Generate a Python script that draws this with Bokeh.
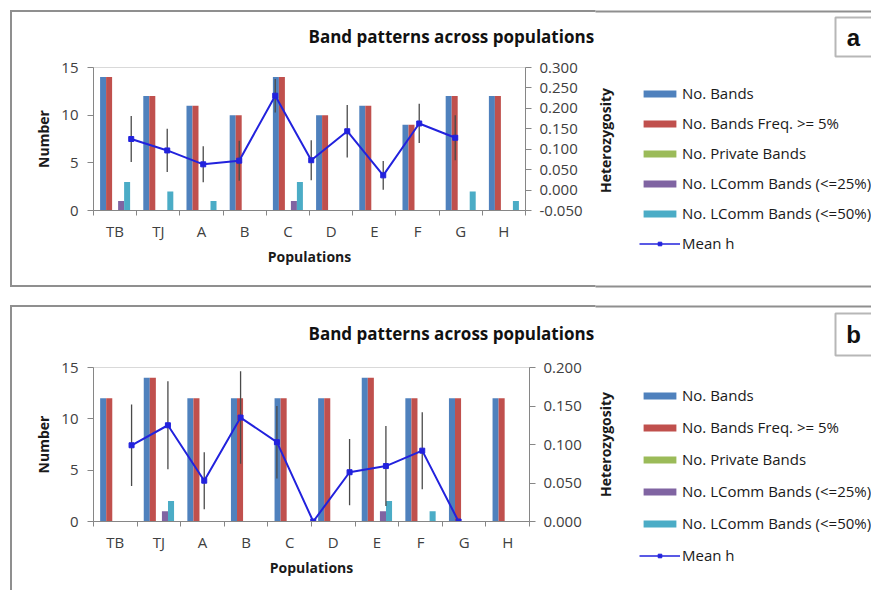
import math
from bokeh.plotting import figure
from bokeh.models import (Range1d, LinearAxis, FixedTicker, PrintfTickFormatter,
                          Legend, LegendItem, BoxAnnotation, Label)
from bokeh.layouts import column, row
from bokeh.embed import file_html
from bokeh.resources import INLINE

# ---------------- data ----------------
populations = ["TB", "TJ", "A", "B", "C", "D", "E", "F", "G", "H"]
series_names = ["No. Bands", "No. Bands Freq. >= 5%", "No. Private Bands",
                "No. LComm Bands (<=25%)", "No. LComm Bands (<=50%)"]
line_name = "Mean h"
chart_title = "Band patterns across populations"

# panel a
a_bands = [14, 12, 11, 10, 14, 10, 11, 9, 12, 12]
a_freq5 = [14, 12, 11, 10, 14, 10, 11, 9, 12, 12]
a_private = [0, 0, 0, 0, 0, 0, 0, 0, 0, 0]
a_lcomm25 = [1, 0, 0, 0, 1, 0, 0, 0, 0, 0]
a_lcomm50 = [3, 2, 1, 0, 3, 0, 0, 0, 2, 1]
a_mean_h = [0.125, 0.097, 0.063, 0.072, 0.231, 0.073, 0.144, 0.036, 0.163, 0.128]
a_h_err = [0.056, 0.053, 0.044, 0.049, 0.041, 0.049, 0.064, 0.035, 0.048, 0.055]
a_h_ticks = [-0.05, 0.0, 0.05, 0.10, 0.15, 0.20, 0.25, 0.30]

# panel b
b_bands = [12, 14, 12, 12, 12, 12, 14, 12, 12, 12]
b_freq5 = [12, 14, 12, 12, 12, 12, 14, 12, 12, 12]
b_private = [0, 0, 0, 0, 0, 0, 0, 0, 0, 0]
b_lcomm25 = [0, 1, 0, 0, 0, 0, 1, 0, 0, 0]
b_lcomm50 = [0, 2, 0, 0, 0, 0, 2, 1, 0, 0]
b_mean_h = [0.099, 0.125, 0.053, 0.135, 0.103, 0.000, 0.064, 0.072, 0.092, 0.000]
b_h_err = [0.053, 0.057, 0.037, 0.060, 0.047, 0.0, 0.043, 0.052, 0.050, 0.0]
b_h_ticks = [0.0, 0.05, 0.10, 0.15, 0.20]

number_ticks = [0, 5, 10, 15]

BAR_COLORS = ["#4F81BD", "#C0504D", "#9BBB59", "#8064A2", "#4BACC6"]
LINE_COLOR = "#2222dd"
AXIS_COLOR = "#868686"
BORDER_COLOR = "#8f8f8f"
FONT = "Open Sans"
TOTAL_W = 871
CHART_W = 595
SIDE_W = TOTAL_W - CHART_W
NAN = float("nan")


def make_chart(series, mean_h, h_err, h_range, h_ticks, height, frame_w, mb_top, mb_bottom,
               title_standoff):
    n = len(populations)
    p = figure(width=CHART_W, height=height, x_range=Range1d(0, n), y_range=Range1d(0, 15),
               output_backend="svg", toolbar_location=None,
               min_border_left=93, min_border_right=CHART_W - 93 - frame_w,
               min_border_top=mb_top, min_border_bottom=mb_bottom)
    p.title.text = chart_title
    p.title.text_font = FONT
    p.title.text_font_style = "bold"
    p.title.text_font_size = "17px"
    p.title.text_color = "#111111"
    p.title.align = "left"
    p.title.offset = 215
    p.title.standoff = title_standoff
    p.extra_y_ranges = {"h": Range1d(*h_range)}
    p.xgrid.visible = False
    p.ygrid.visible = False
    p.outline_line_color = "#d9d9d9"
    p.background_fill_color = "white"
    p.border_fill_color = None

    bw = 0.139
    for k, (vals, col) in enumerate(zip(series, BAR_COLORS)):
        xs = [i + 0.5 + (k - 2) * bw for i in range(n)]
        p.vbar(x=xs, top=vals, width=bw, bottom=0, fill_color=col, line_color=None)

    # secondary (Excel) category positions of the line series
    xl = [(i + 1) * n / 12.0 + 0.04 for i in range(n)]
    lo = [m - e for m, e in zip(mean_h, h_err)]
    hi = [m + e for m, e in zip(mean_h, h_err)]
    p.segment(x0=xl, y0=lo, x1=xl, y1=hi, y_range_name="h", line_color="#4a4a4a", line_width=1.3)
    p.line(xl, mean_h, y_range_name="h", line_color=LINE_COLOR, line_width=2)
    p.scatter(xl, mean_h, y_range_name="h", marker="square", size=5,
              fill_color=LINE_COLOR, line_color=LINE_COLOR)

    xa = p.xaxis[0]
    xa.ticker = FixedTicker(ticks=[i + 0.5 for i in range(n)], minor_ticks=list(range(n + 1)))
    xa.major_label_overrides = {i + 0.5: populations[i] for i in range(n)}
    xa.major_tick_line_color = None
    xa.major_tick_out = 0
    xa.major_tick_in = 0
    xa.minor_tick_out = 5
    xa.minor_tick_in = 0
    xa.minor_tick_line_color = AXIS_COLOR
    xa.axis_line_color = AXIS_COLOR
    xa.major_label_standoff = 5
    xa.major_label_text_font = FONT
    xa.major_label_text_font_size = "15px"
    xa.major_label_text_color = "#404040"
    xa.axis_label = "Populations"
    xa.axis_label_text_font = FONT
    xa.axis_label_text_font_style = "bold"
    xa.axis_label_text_font_size = "14px"
    xa.axis_label_text_color = "#1a1a1a"
    xa.axis_label_standoff = 3

    ya = p.yaxis[0]
    ya.ticker = FixedTicker(ticks=number_ticks, minor_ticks=[])
    ya.major_tick_out = 6
    ya.major_tick_in = 0
    ya.major_tick_line_color = AXIS_COLOR
    ya.axis_line_color = AXIS_COLOR
    ya.major_label_standoff = 9
    ya.major_label_text_font = FONT
    ya.major_label_text_font_size = "15px"
    ya.major_label_text_color = "#404040"
    ya.axis_label = "Number"
    ya.axis_label_text_font = FONT
    ya.axis_label_text_font_style = "bold"
    ya.axis_label_text_font_size = "14px"
    ya.axis_label_text_color = "#1a1a1a"
    ya.axis_label_standoff = 5

    ra = LinearAxis(y_range_name="h", ticker=FixedTicker(ticks=h_ticks, minor_ticks=[]),
                    formatter=PrintfTickFormatter(format="%.3f"))
    ra.major_tick_out = 6
    ra.major_tick_in = 0
    ra.major_tick_line_color = AXIS_COLOR
    ra.axis_line_color = AXIS_COLOR
    ra.major_label_standoff = 8
    ra.major_label_text_font = FONT
    ra.major_label_text_font_size = "15px"
    ra.major_label_text_color = "#404040"
    p.add_layout(ra, "right")
    return p


def canvas_box(left, right, top, bottom, **kw):
    return BoxAnnotation(left=left, right=right, top=top, bottom=bottom,
                         left_units="canvas", right_units="canvas",
                         top_units="canvas", bottom_units="canvas", **kw)


def make_side(height, tag, tag_top, tag_bottom, tag_y, het_y, legend_loc, legend_spacing,
              border_lines):
    s = figure(width=SIDE_W, height=height, x_range=Range1d(0, 1), y_range=Range1d(0, 1),
               x_axis_type=None, y_axis_type=None, output_backend="svg",
               toolbar_location=None, min_border=0)
    s.title.visible = False
    s.outline_line_color = None
    s.background_fill_color = "white"
    s.border_fill_color = "white"
    # panel border segments that cross this area
    for (t, b) in border_lines:
        s.add_layout(canvas_box(-5, SIDE_W + 5, t, b, fill_color=BORDER_COLOR, fill_alpha=1,
                                line_color=None))
    # legend proxies: zero-height / NaN glyphs that draw nothing in the plot area
    rs = [s.vbar(x=[0.5], top=[0], bottom=0, width=0.1, fill_color=c, line_color=None)
          for c in BAR_COLORS]
    ln = s.line(x=[NAN, NAN], y=[NAN, NAN], line_color=LINE_COLOR, line_width=1.5)
    mk = s.scatter(x=[NAN], y=[NAN], marker="square", size=4, fill_color=LINE_COLOR,
                   line_color=LINE_COLOR)
    items = [LegendItem(label=nm, renderers=[r]) for nm, r in zip(series_names, rs)]
    items.append(LegendItem(label=line_name, renderers=[ln, mk]))
    leg = Legend(items=items, location=legend_loc)
    leg.background_fill_alpha = 0
    leg.border_line_color = None
    leg.padding = 0
    leg.margin = 0
    leg.spacing = legend_spacing
    leg.glyph_width = 41
    leg.glyph_height = 9
    leg.label_height = 20
    leg.label_standoff = 2
    leg.label_text_font = FONT
    leg.label_text_font_size = "15px"
    leg.label_text_color = "#1a1a1a"
    s.add_layout(leg)
    s.add_layout(Label(x=605 - CHART_W, y=het_y, x_units="canvas", y_units="canvas",
                       text="Heterozygosity", angle=math.pi / 2, text_font=FONT,
                       text_font_style="bold", text_font_size="14px", text_color="#1a1a1a",
                       text_align="center", text_baseline="middle"))
    s.add_layout(canvas_box(835 - CHART_W, SIDE_W + 30, tag_top, tag_bottom,
                            fill_color="white", fill_alpha=1, line_color="#111111",
                            line_width=2))
    s.add_layout(Label(x=853 - CHART_W, y=tag_y, x_units="canvas", y_units="canvas", text=tag,
                       text_font="Liberation Sans", text_font_style="bold",
                       text_font_size="24px", text_color="#111111",
                       text_align="center", text_baseline="middle"))
    return s


def border_css(top, bottom):
    c = BORDER_COLOR
    g = f"linear-gradient({c},{c})"
    imgs = [g, g]
    sizes = [f"{CHART_W}px 2px", f"2px {(bottom if bottom else 400) - top}px"]
    poss = [f"10px {top}px", f"10px {top}px"]
    if bottom:
        imgs.append(g)
        sizes.append(f"{CHART_W}px 2px")
        poss.append(f"10px {bottom - 2}px")
    return {"background-image": ", ".join(imgs),
            "background-size": ", ".join(sizes),
            "background-position": ", ".join(poss),
            "background-repeat": "no-repeat"}


# ---------------- panel a ----------------
H_A = 297
chart_a = make_chart([a_bands, a_freq5, a_private, a_lcomm25, a_lcomm50],
                     a_mean_h, a_h_err, (-0.05, 0.30), a_h_ticks,
                     height=H_A, frame_w=432, mb_top=67, mb_bottom=H_A - 210,
                     title_standoff=40)
side_a = make_side(H_A, "a", 17, 56, 37, 140, (639 - CHART_W, H_A - 253), 10,
                   [(10, 12), (285, 287)])
panel_a = row(chart_a, column(side_a, spacing=0), spacing=0, styles=border_css(10, 287))

# ---------------- panel b ----------------
H_B = 293
chart_b = make_chart([b_bands, b_freq5, b_private, b_lcomm25, b_lcomm50],
                     b_mean_h, b_h_err, (0.0, 0.20), b_h_ticks,
                     height=H_B, frame_w=436, mb_top=367 - 297, mb_bottom=H_B - (521 - 297),
                     title_standoff=45)
side_b = make_side(H_B, "b", 16, 58, 37, 444 - 297, (639 - CHART_W, H_B - (565 - 297)), 12,
                   [(8, 10)])
panel_b = row(chart_b, column(side_b, spacing=0), spacing=0, styles=border_css(8, None))

layout = column(panel_a, panel_b, spacing=0)
open("out.html", "w").write(file_html(layout, INLINE))
